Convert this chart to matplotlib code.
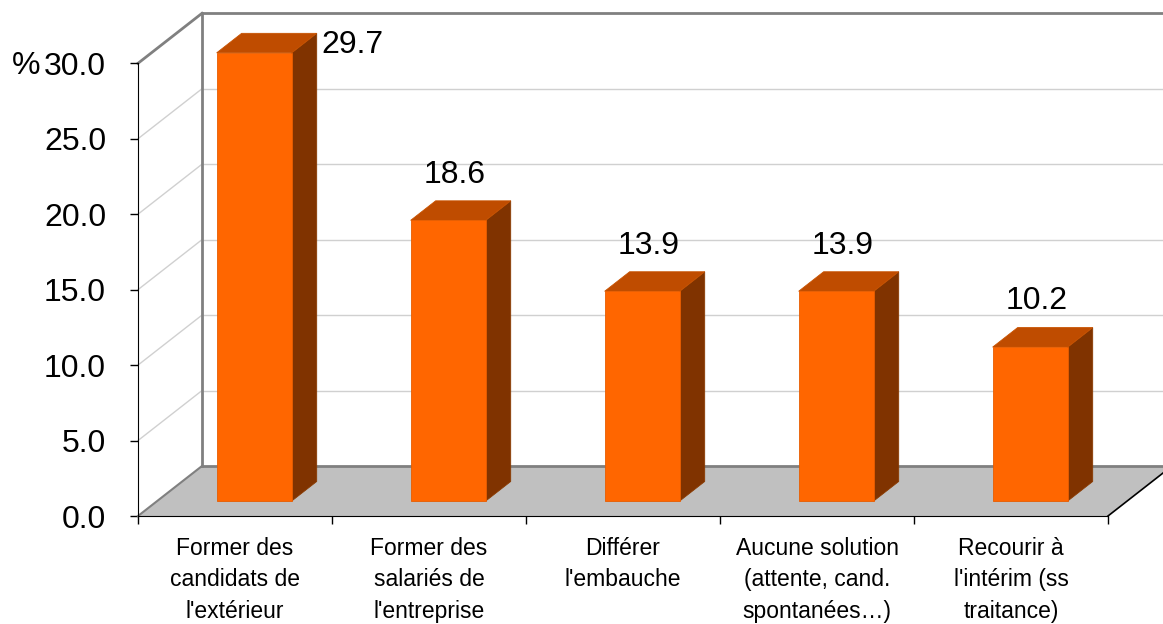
import numpy as np
import matplotlib.pyplot as plt
from matplotlib.patches import Polygon

plt.rcParams['font.family'] = ['Liberation Sans', 'DejaVu Sans']

categories = ["Former des\ncandidats de\nl'extérieur",
              "Former des\nsalariés de\nl'entreprise",
              "Différer\nl'embauche",
              "Aucune solution\n(attente, cand.\nspontanées…)",
              "Recourir à\nl'intérim (ss\ntraitance)"]
values = [29.7, 18.6, 13.9, 13.9, 10.2]
yticks = [0, 5, 10, 15, 20, 25, 30]

# fake 3d: depth offset of the back wall, in data units
DX = 64 / 194
DY = 50 / 15.09
d0, d1 = 0.30, 0.69      # bar front / back depth (fraction of DX, DY)
bw = 0.387               # bar width
ymax = 30

fig = plt.figure(figsize=(11.63, 6.24), dpi=100)
ax = fig.add_axes([0, 0, 1, 1])
ax.set_xlim(-138 / 194, (1163 - 138) / 194)
ax.set_ylim(-108 / 15.09, 516 / 15.09)
n = len(values)

# floor
ax.add_patch(Polygon([(0, 0), (n, 0), (n + DX, DY), (DX, DY)],
                     closed=True, fc='#C0C0C0', ec='none', zorder=1))
ax.plot([0, DX], [0, DY], color='#808080', lw=1.5, zorder=2)
ax.plot([n, n + DX], [0, DY], color='black', lw=1.2, zorder=2)
ax.plot([DX, n + DX], [DY, DY], color='#808080', lw=2, zorder=2)

# walls + gridlines
for t in yticks[1:]:
    c, lw = ('#D0D0D0', 1) if t < ymax else ('#808080', 2)
    ax.plot([0, DX], [t, t + DY], color=c, lw=lw, zorder=1.5)
    ax.plot([DX, n + DX], [t + DY, t + DY], color=c, lw=lw, zorder=1.5)
ax.plot([DX, DX], [DY, ymax + DY], color='#808080', lw=2, zorder=1.5)

# bars
for i, v in enumerate(values):
    x0 = i + 0.5 - bw / 2 + d0 * DX
    x1 = x0 + bw
    y0 = d0 * DY
    ox, oy = (d1 - d0) * DX, (d1 - d0) * DY
    ax.add_patch(Polygon([(x1, y0), (x1 + ox, y0 + oy), (x1 + ox, y0 + oy + v), (x1, y0 + v)],
                         fc='#803300', ec='#8A3A00', lw=0.6, zorder=3))
    ax.add_patch(Polygon([(x0, y0 + v), (x1, y0 + v), (x1 + ox, y0 + oy + v), (x0 + ox, y0 + oy + v)],
                         fc='#BF4C00', ec='#C85200', lw=0.6, zorder=3))
    ax.add_patch(Polygon([(x0, y0), (x1, y0), (x1, y0 + v), (x0, y0 + v)],
                         fc='#FF6600', ec='#E85D00', lw=0.6, zorder=4))
    ly = v + d1 * DY + 1.2
    if ly + 1.5 > ymax + DY:
        # no room above the first bar, label goes to its right
        ax.text(x1 + ox + 0.025, v + 0.95, f"{v:.1f}", ha='left', va='baseline',
                fontsize=23, zorder=5)
    else:
        ax.text(i + 0.5 + d0 * DX + 0.035, ly, f"{v:.1f}", ha='center', va='baseline',
                fontsize=23, zorder=5)

# axes
for s in ['top', 'right']:
    ax.spines[s].set_visible(False)
ax.spines['left'].set_position(('data', 0))
ax.spines['bottom'].set_position(('data', 0))
ax.spines['left'].set_bounds(0, ymax)
ax.spines['bottom'].set_bounds(0, n)
ax.spines['left'].set_zorder(6)
ax.spines['bottom'].set_zorder(6)

ax.set_yticks(yticks)
ax.set_yticklabels([f"{t:.1f}" for t in yticks])
ax.tick_params(axis='y', length=6, width=1, pad=17, labelsize=23)
ax.set_xticks(np.arange(n + 1))
ax.set_xticklabels([])
ax.set_xticks(np.arange(n) + 0.5, minor=True)
ax.set_xticklabels(categories, minor=True)
ax.tick_params(axis='x', which='major', length=6, width=1)
ax.tick_params(axis='x', which='minor', length=0, pad=15, labelsize=16.5)
for lab in ax.get_xticklabels(minor=True):
    lab.set_multialignment('center')
    lab.set_linespacing(1.47)

ax.text(-0.577, 29.3, "%", ha='center', va='baseline', fontsize=23)

fig.savefig('out.png', dpi=100)
